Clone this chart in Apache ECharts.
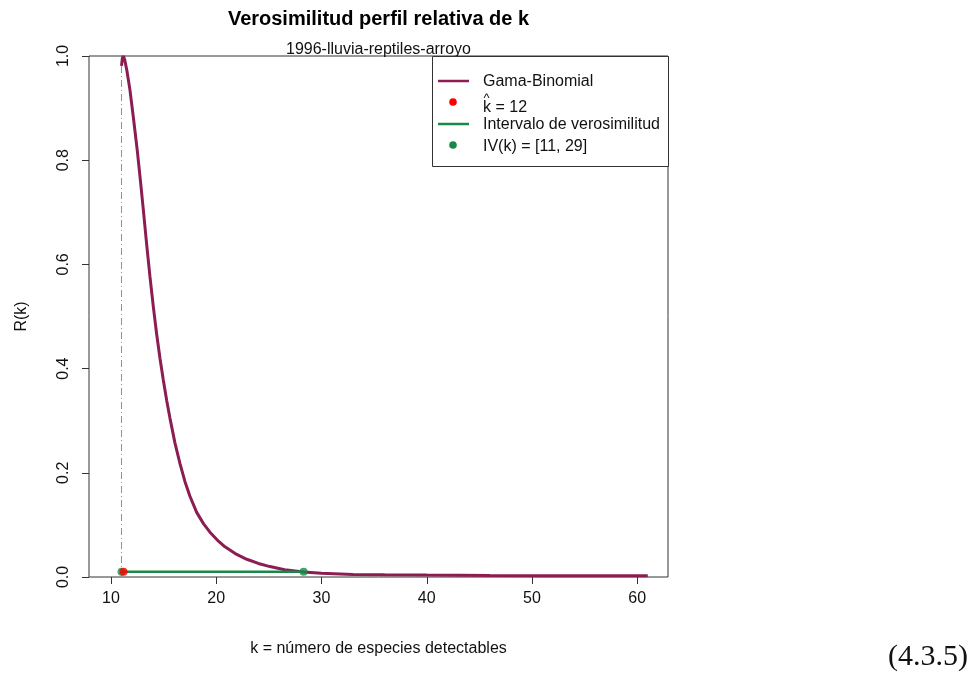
<!DOCTYPE html>
<html>
<head>
<meta charset="utf-8">
<script src="https://cdn.jsdelivr.net/npm/echarts@6/dist/echarts.min.js"></script>
<style>
  html, body { margin: 0; padding: 0; background: #ffffff; }
  #chart { width: 980px; height: 675px; }
</style>
</head>
<body>
<div id="chart"></div>
<script>
// Relative profile likelihood R(k) for the Gamma-Binomial model
const kValues = [11.0, 11.08, 11.17, 11.3, 11.5, 11.8, 12.12, 12.5, 12.8, 13.07, 13.4, 13.7, 14.02, 14.34, 14.66, 14.97, 15.3, 15.6, 16.08, 16.56, 17.03, 17.5, 18.14, 18.8, 19.4, 20.1, 20.83, 21.8, 22.9, 24.0, 25.1, 26.5, 28.3, 30.0, 33.0, 36.0, 40.0, 46.0, 52.0, 61.0];
const rValues = [0.981, 0.996, 1.0, 0.993, 0.973, 0.935, 0.883, 0.818, 0.760, 0.705, 0.636, 0.577, 0.519, 0.466, 0.419, 0.378, 0.338, 0.305, 0.257, 0.217, 0.183, 0.155, 0.124, 0.102, 0.086, 0.071, 0.058, 0.045, 0.034, 0.026, 0.020, 0.014, 0.0096, 0.007, 0.005, 0.0042, 0.0036, 0.003, 0.0026, 0.0022];

// Maximum likelihood estimate and likelihood interval at level c
const kHat = 11.2;
const ivLow = 11.0;
const ivHigh = 28.3;
const cLevel = 0.01;

// Axis ticks
const xTicks = [10, 20, 30, 40, 50, 60];
const yTicks = [0, 0.2, 0.4, 0.6, 0.8, 1.0];

const colCurve = '#8C1D52';
const colRed = '#FF0000';
const colGreen = '#168A46';
const colRef = '#C46EC4';
const font = 'Liberation Sans, Arial, sans-serif';

const curveData = kValues.map((k, i) => [k, rValues[i]]);

const chart = echarts.init(document.getElementById('chart'), null, { renderer: 'canvas' });

// Plot region
const gx = 89, gy = 56, gw = 579, gh = 521;
const titleCx = gx + gw / 2 - 5;

// Legend drawn as a boxed panel in the upper right corner of the plot
const lgX = 432, lgY = 56, lgW = 236, lgH = 110;
const legendItems = [
  { kind: 'line', color: colCurve, text: 'Gama-Binomial', y: 81 },
  { kind: 'dot', color: colRed, text: 'k = ' + Math.ceil(kHat), y: 107, hat: true },
  { kind: 'line', color: colGreen, text: 'Intervalo de verosimilitud', y: 124 },
  { kind: 'dot', color: colGreen, text: 'IV(k) = [' + Math.round(ivLow) + ', ' + Math.ceil(ivHigh) + ']', y: 146 }
];
const legendGraphics = [{
  type: 'rect', shape: { x: lgX + 0.5, y: lgY + 0.5, width: lgW, height: lgH },
  style: { fill: '#ffffff', stroke: '#333333', lineWidth: 1 }, z: 100
}];
legendItems.forEach(it => {
  if (it.kind === 'line') {
    legendGraphics.push({
      type: 'line', shape: { x1: lgX + 6, y1: it.y, x2: lgX + 37, y2: it.y },
      style: { stroke: it.color, lineWidth: 2.5 }, z: 101
    });
  } else {
    legendGraphics.push({
      type: 'circle', shape: { cx: lgX + 21, cy: it.hat ? it.y - 5 : it.y - 1, r: 3.8 },
      style: { fill: it.color }, z: 101
    });
  }
  legendGraphics.push({
    type: 'text', x: lgX + 51, y: it.y + 1,
    style: { text: it.text, font: '16px ' + font, fill: '#111111', textVerticalAlign: 'middle' }, z: 101
  });
  if (it.hat) {
    legendGraphics.push({
      type: 'text', x: lgX + 51.5, y: it.y - 9,
      style: { text: '^', font: '13px ' + font, fill: '#111111', textVerticalAlign: 'middle' }, z: 101
    });
  }
});

const option = {
  animation: false,
  backgroundColor: '#ffffff',
  title: [
    {
      text: 'Verosimilitud perfil relativa de k',
      left: titleCx, top: 4, textAlign: 'center',
      textStyle: { fontFamily: font, fontSize: 20, fontWeight: 'bold', color: '#000000' }
    },
    {
      text: '1996-lluvia-reptiles-arroyo',
      left: titleCx, top: 37, textAlign: 'center',
      textStyle: { fontFamily: font, fontSize: 16, fontWeight: 'normal', color: '#111111' }
    }
  ],
  grid: {
    left: gx, top: gy, width: gw, height: gh,
    show: true, borderColor: '#333333', borderWidth: 1, backgroundColor: 'transparent'
  },
  xAxis: {
    type: 'value', min: 7.91, max: 62.92,
    name: 'k = número de especies detectables',
    nameLocation: 'middle', nameGap: 64,
    nameTextStyle: { fontFamily: font, fontSize: 16, color: '#111111' },
    axisLine: { show: false },
    axisTick: { show: true, length: 7, customValues: xTicks, lineStyle: { color: '#333333' } },
    axisLabel: { customValues: xTicks, margin: 14, fontFamily: font, fontSize: 16, color: '#111111' },
    splitLine: { show: false }
  },
  yAxis: {
    type: 'value', min: 0, max: 1, interval: 0.2,
    name: 'R(k)', nameLocation: 'middle', nameGap: 59, nameRotate: 90,
    nameTextStyle: { fontFamily: font, fontSize: 16, color: '#111111' },
    axisLine: { show: false },
    axisTick: { show: true, length: 7, customValues: yTicks, lineStyle: { color: '#333333' } },
    axisLabel: {
      customValues: yTicks, rotate: 90, margin: 17, fontFamily: font, fontSize: 16, color: '#111111',
      formatter: v => v.toFixed(1)
    },
    splitLine: { show: false }
  },
  series: [
    {
      name: 'ref', type: 'line', data: [[ivLow, 0], [ivLow, 1]], showSymbol: false,
      lineStyle: { color: colRef, width: 1, type: [7, 3, 1, 3] }, z: 1
    },
    {
      name: 'Gama-Binomial', type: 'line', data: curveData, showSymbol: false,
      lineStyle: { color: colCurve, width: 3 }, z: 2
    },
    {
      name: 'Intervalo de verosimilitud', type: 'line', data: [[ivLow, cLevel], [ivHigh, cLevel]], showSymbol: false,
      lineStyle: { color: colGreen, width: 2.5 }, z: 3
    },
    {
      name: 'IV', type: 'scatter', data: [[ivLow, cLevel], [ivHigh, cLevel]], symbolSize: 8,
      itemStyle: { color: colGreen }, z: 4
    },
    {
      name: 'kHat', type: 'scatter', data: [[kHat, cLevel]], symbolSize: 8,
      itemStyle: { color: colRed }, z: 5
    }
  ],
  graphic: legendGraphics.concat([
    {
      type: 'text', x: 968, y: 657,
      style: { text: '(4.3.5)', font: '30px Liberation Serif, DejaVu Serif, serif', fill: '#111111', textAlign: 'right', textVerticalAlign: 'middle' }
    }
  ])
};

chart.setOption(option);
</script>
</body>
</html>
